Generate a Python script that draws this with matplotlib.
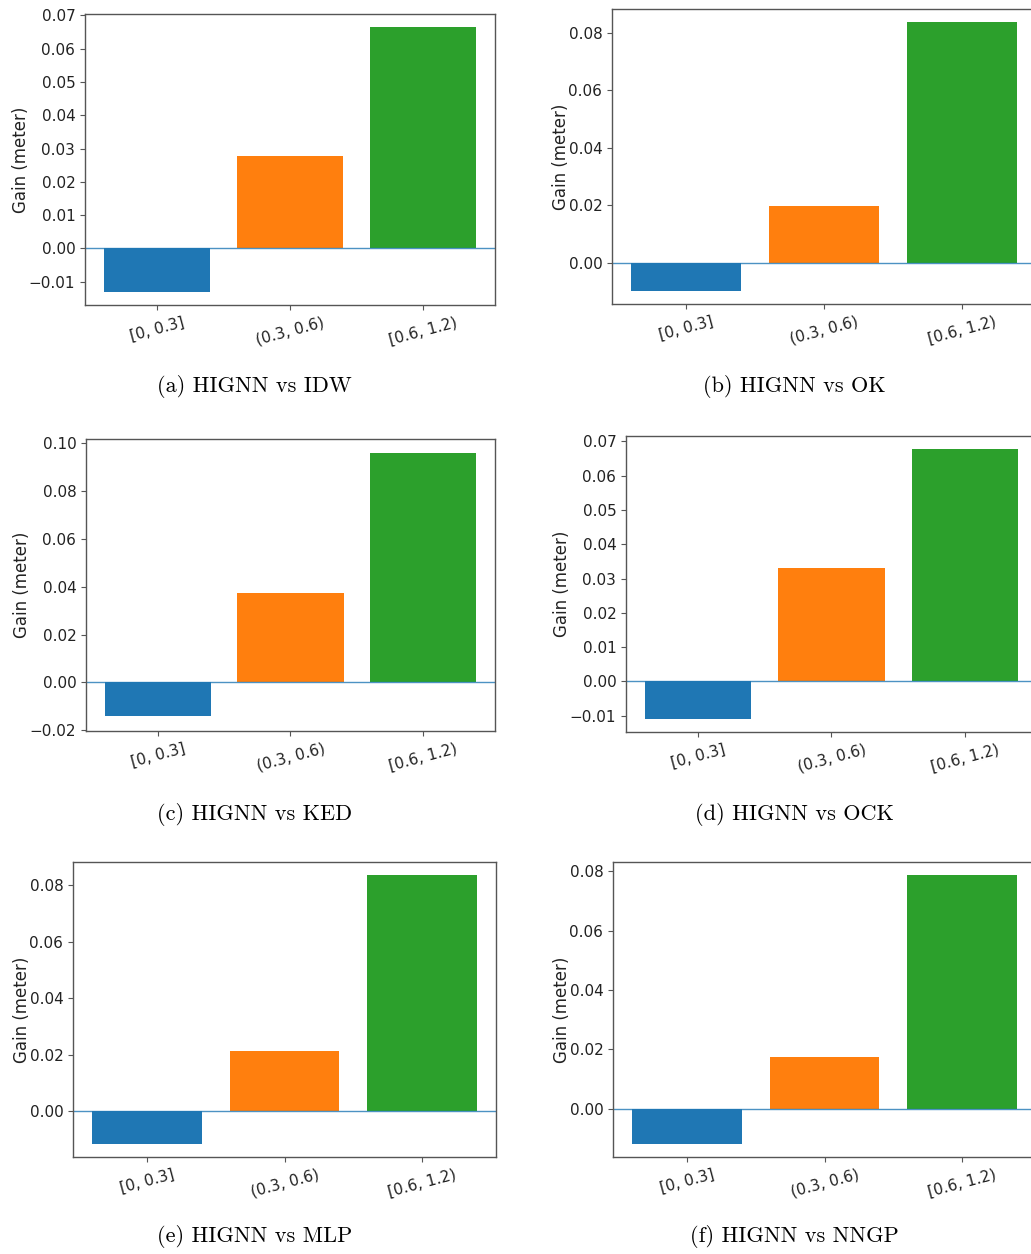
import matplotlib
matplotlib.use("Agg")
import matplotlib.pyplot as plt
from matplotlib.ticker import MultipleLocator

# ---- data ----
categories = ["[0, 0.3]", "(0.3, 0.6)", "[0.6, 1.2)"]
gain_idw = [-0.0130, 0.0278, 0.0664]
gain_ok = [-0.0097, 0.0197, 0.0837]
gain_ked = [-0.0141, 0.0373, 0.0959]
gain_ock = [-0.0108, 0.0332, 0.0676]
gain_mlp = [-0.0114, 0.0212, 0.0835]
gain_nngp = [-0.0118, 0.0174, 0.0786]
captions = ["(a) HIGNN vs IDW", "(b) HIGNN vs OK", "(c) HIGNN vs KED",
            "(d) HIGNN vs OCK", "(e) HIGNN vs MLP", "(f) HIGNN vs NNGP"]
ylabel = "Gain (meter)"

W, H = 1031, 1254
fig = plt.figure(figsize=(W / 100, H / 100), dpi=100, facecolor="white")

# axes boxes in pixels: left, top, right, bottom
boxes = [(85, 14, 495, 305), (612, 9, 1036, 304),
         (86, 439, 495, 731), (626, 436, 1037, 732),
         (73, 862, 496, 1157), (613, 862, 1036, 1157)]
steps = [0.01, 0.02, 0.02, 0.01, 0.02, 0.02]
ylims = [None, None, (-0.0203, 0.1017), None, None, None]
cap_pos = [(254, 387), (794, 387), (255, 814), (794, 814), (255, 1237), (794, 1237)]
series = [gain_idw, gain_ok, gain_ked, gain_ock, gain_mlp, gain_nngp]
colors = ["#1f77b4", "#ff7f0e", "#2ca02c"]
spine_col = "#555555"
text_col = "#222222"

for vals, box, step, yl, cap, cp in zip(series, boxes, steps, ylims, captions, cap_pos):
    l, t, r, b = box
    ax = fig.add_axes([l / W, 1 - b / H, (r - l) / W, (b - t) / H])
    x = list(range(len(categories)))
    ax.bar(x, vals, width=0.8, color=colors)
    ax.axhline(0, color="#1f77b4", lw=1.0, alpha=0.8)
    ax.set_xticks(x)
    ax.set_xticklabels(categories, rotation=15, fontsize=11, color=text_col)
    ax.yaxis.set_major_locator(MultipleLocator(step))
    if yl is not None:
        ax.set_ylim(*yl)
    ax.tick_params(axis="y", labelsize=11, labelcolor=text_col, color=spine_col)
    ax.tick_params(axis="x", color=spine_col)
    ax.set_ylabel(ylabel, fontsize=12, color=text_col, labelpad=-1)
    for s in ax.spines.values():
        s.set_color(spine_col)
        s.set_linewidth(1.0)
    fig.text(cp[0] / W, 1 - cp[1] / H, cap, fontsize=16,
             family=["cmr10", "DejaVu Serif"], ha="center", va="center")

fig.savefig("out.png", dpi=100, facecolor="white")
